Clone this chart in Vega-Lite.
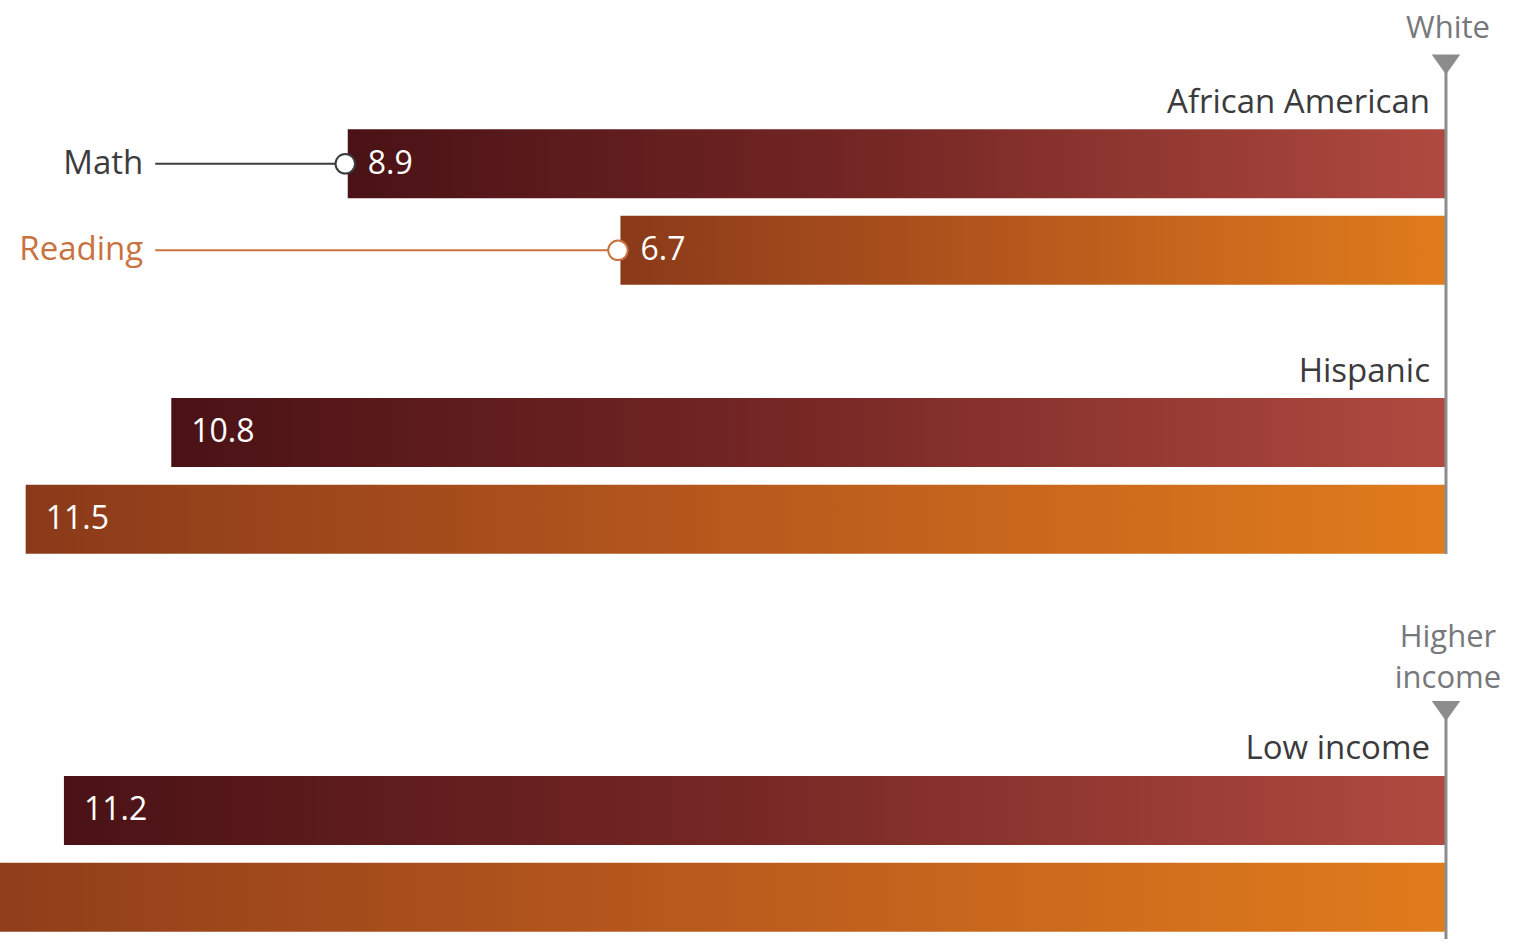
{
  "$schema": "https://vega.github.io/schema/vega-lite/v6.json",
  "width": 1521,
  "height": 944,
  "padding": 0,
  "autosize": {"type": "none"},
  "background": "white",
  "config": {"view": {"stroke": null}, "font": "Open Sans"},
  "datasets": {
    "bars": [
      {"group": "African American", "subject": "Math", "row": 3.655, "gap": 8.9, "label": "8.9"},
      {"group": "African American", "subject": "Reading", "row": 5.648, "gap": 6.69, "label": "6.7"},
      {"group": "Hispanic", "subject": "Math", "row": 9.84, "gap": 10.33, "label": "10.8"},
      {"group": "Hispanic", "subject": "Reading", "row": 11.84, "gap": 11.51, "label": "11.5"},
      {"group": "Low income", "subject": "Math", "row": 18.54, "gap": 11.2, "label": "11.2"},
      {"group": "Low income", "subject": "Reading", "row": 20.54, "gap": 12.5, "label": null}
    ],
    "groups": [
      {"text": "African American", "row": 2.25},
      {"text": "Hispanic", "row": 8.45},
      {"text": "Low income", "row": 17.12}
    ],
    "refs": [
      {"text": "White", "row": 0.55, "lineStart": 1.37, "lineEnd": 12.64},
      {"text": "Higher\nincome", "row": 14.58, "lineStart": 16.25, "lineEnd": 21.5}
    ],
    "callouts": [
      {"subject": "Math", "row": 3.655, "from": 10.46, "to": 8.92},
      {"subject": "Reading", "row": 5.648, "from": 10.46, "to": 6.71}
    ]
  },
  "layer": [
    {
      "data": {"name": "bars"},
      "transform": [{"filter": "datum.subject === 'Math'"}],
      "mark": {
        "type": "bar", "orient": "horizontal", "height": 69, "clip": true,
        "color": {"gradient": "linear", "x1": 0, "x2": 1, "y1": 0, "y2": 0,
          "stops": [{"offset": 0, "color": "#4a1216"}, {"offset": 0.5, "color": "#772825"}, {"offset": 1, "color": "#b04a40"}]}
      },
      "encoding": {
        "x": {"field": "gap", "type": "quantitative", "stack": null,
          "scale": {"domain": [-0.608, 11.718], "reverse": true, "nice": false, "zero": false}, "axis": null},
        "y": {"field": "row", "type": "quantitative",
          "scale": {"domain": [0, 21.5], "reverse": true, "nice": false, "zero": false}, "axis": null}
      }
    },
    {
      "data": {"name": "bars"},
      "transform": [{"filter": "datum.subject === 'Reading'"}],
      "mark": {
        "type": "bar", "orient": "horizontal", "height": 69, "clip": true,
        "color": {"gradient": "linear", "x1": 0, "x2": 1, "y1": 0, "y2": 0,
          "stops": [{"offset": 0, "color": "#8a3a1a"}, {"offset": 0.5, "color": "#b8591d"}, {"offset": 1, "color": "#e07c1c"}]}
      },
      "encoding": {
        "x": {"field": "gap", "type": "quantitative", "stack": null},
        "y": {"field": "row", "type": "quantitative"}
      }
    },
    {
      "data": {"name": "refs"},
      "mark": {"type": "rule", "color": "#8c8c8c", "strokeWidth": 3},
      "encoding": {
        "x": {"datum": 0, "type": "quantitative"},
        "y": {"field": "lineStart", "type": "quantitative"},
        "y2": {"field": "lineEnd"}
      }
    },
    {
      "data": {"name": "refs"},
      "mark": {"type": "point", "shape": "M-1,-0.7L1,-0.7L0,0.7Z", "size": 810, "filled": true, "opacity": 1, "color": "#8c8c8c"},
      "encoding": {
        "x": {"datum": 0, "type": "quantitative"},
        "y": {"field": "lineStart", "type": "quantitative"}
      }
    },
    {
      "data": {"name": "refs"},
      "mark": {"type": "text", "align": "center", "baseline": "middle", "fontSize": 31, "color": "#77787b", "lineBreak": "\n", "lineHeight": 41, "dx": 2},
      "encoding": {
        "x": {"datum": 0, "type": "quantitative"},
        "y": {"field": "row", "type": "quantitative"},
        "text": {"field": "text"}
      }
    },
    {
      "data": {"name": "groups"},
      "mark": {"type": "text", "align": "right", "baseline": "middle", "fontSize": 33, "color": "#3b3b3d", "dx": -16},
      "encoding": {
        "x": {"datum": 0, "type": "quantitative"},
        "y": {"field": "row", "type": "quantitative"},
        "text": {"field": "text"}
      }
    },
    {
      "data": {"name": "bars"},
      "transform": [{"filter": "datum.label != null"}],
      "mark": {"type": "text", "align": "left", "baseline": "middle", "fontSize": 32, "color": "white", "dx": 20},
      "encoding": {
        "x": {"field": "gap", "type": "quantitative"},
        "y": {"field": "row", "type": "quantitative"},
        "text": {"field": "label"}
      }
    },
    {
      "data": {"name": "callouts"},
      "mark": {"type": "rule", "strokeWidth": 2},
      "encoding": {
        "x": {"field": "from", "type": "quantitative"},
        "x2": {"field": "to"},
        "y": {"field": "row", "type": "quantitative"},
        "color": {"field": "subject", "type": "nominal",
          "scale": {"domain": ["Math", "Reading"], "range": ["#3c3c3e", "#c8733f"]}, "legend": null}
      }
    },
    {
      "data": {"name": "callouts"},
      "mark": {"type": "point", "shape": "circle", "size": 380, "filled": false, "fill": "white", "fillOpacity": 1, "opacity": 1, "strokeWidth": 2},
      "encoding": {
        "x": {"field": "to", "type": "quantitative"},
        "y": {"field": "row", "type": "quantitative"},
        "color": {"field": "subject", "type": "nominal", "legend": null}
      }
    },
    {
      "data": {"name": "callouts"},
      "mark": {"type": "text", "align": "right", "baseline": "middle", "fontSize": 33, "dx": -12},
      "encoding": {
        "x": {"field": "from", "type": "quantitative"},
        "y": {"field": "row", "type": "quantitative"},
        "text": {"field": "subject"},
        "color": {"field": "subject", "type": "nominal", "legend": null}
      }
    }
  ]
}
